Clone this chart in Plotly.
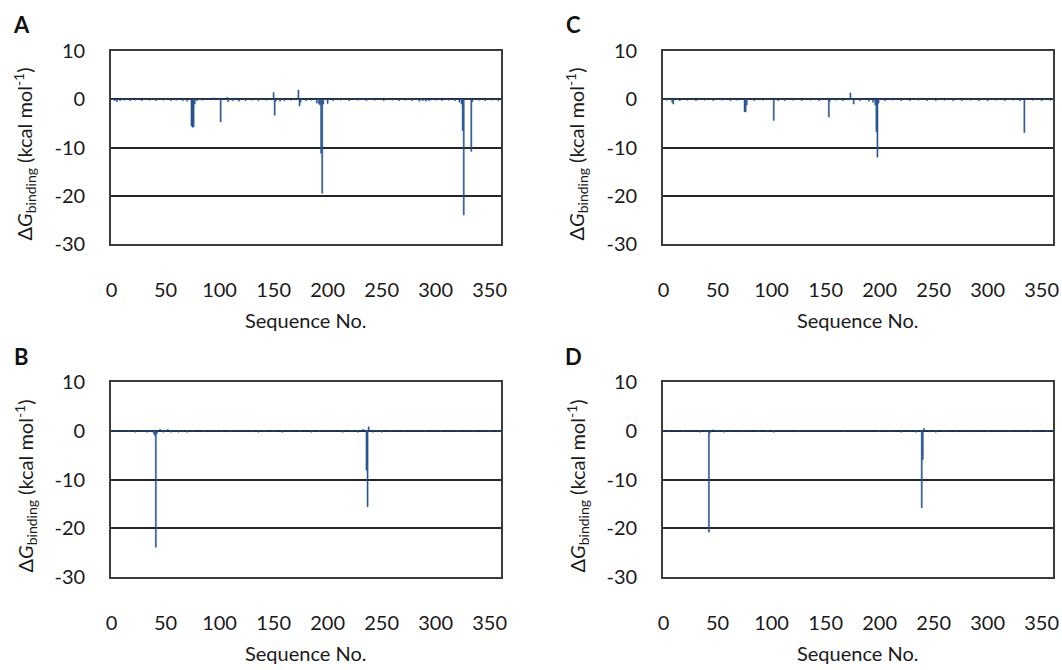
import plotly.graph_objects as go

# ---------------- data ----------------
N_RES = 361
seq_no = list(range(N_RES))

x_ticks = [0, 50, 100, 150, 200, 250, 300, 350]
y_ticks = [-30, -20, -10, 0, 10]
y_tick_text = ["-30", "-20", "-10", "0", "10"]

# main peaks, residue: dG (kcal/mol)
peaks_A = {74: -5.5, 75: -5.8, 76: -5.7, 77: -1.0, 101: -4.7, 107: 0.4, 108: -0.5,
           150: 1.4, 151: -3.3, 152: -0.4, 173: 1.9, 174: -1.4, 175: -0.6,
           190: -0.8, 192: -1.0, 193: -1.2, 194: -11.2, 195: -19.5, 196: -1.0,
           200: -0.9, 322: -0.6, 324: -1.0, 325: -6.5, 326: -24.0, 333: -10.8, 334: -0.5}
noise_A = {3: -0.3, 5: -0.5, 8: -0.3, 12: -0.2, 17: -0.3, 22: -0.2, 28: -0.3, 35: -0.2,
           41: -0.3, 48: -0.2, 55: -0.3, 60: -0.2, 66: -0.3, 70: -0.4, 79: -0.3, 84: -0.2,
           90: 0.2, 95: 0.3, 112: -0.3, 118: -0.4, 124: -0.3, 130: -0.2, 136: -0.3,
           143: -0.2, 156: -0.4, 160: -0.3, 166: -0.2, 180: -0.3, 185: -0.2, 205: -0.3,
           212: -0.2, 220: -0.3, 228: -0.2, 236: -0.3, 244: -0.2, 252: -0.3, 260: -0.2,
           266: -0.3, 272: -0.2, 278: -0.3, 285: -0.4, 288: -0.3, 291: -0.4, 294: -0.3,
           300: -0.2, 306: -0.3, 312: -0.2, 318: -0.3, 340: -0.2, 346: -0.3, 352: -0.2,
           358: -0.3}

peaks_B = {39: -0.5, 40: -1.0, 41: -23.9, 42: -0.6, 45: 0.3, 48: -0.3, 52: 0.3,
           236: -8.1, 237: -15.6, 238: 0.8, 233: 0.3}
noise_B = {4: -0.2, 10: -0.2, 16: -0.2, 22: -0.3, 28: -0.2, 33: -0.3, 36: -0.2,
           55: -0.3, 58: -0.2, 62: -0.3, 66: -0.2, 70: -0.3, 75: -0.2, 86: -0.2,
           102: -0.2, 110: -0.2, 130: -0.2, 136: -0.3, 142: -0.2, 150: -0.2, 158: -0.3,
           165: -0.2, 175: -0.2, 185: -0.3, 192: -0.2, 205: -0.2, 214: -0.3, 222: -0.2,
           228: -0.3, 242: -0.3, 246: -0.2, 250: -0.3, 258: -0.2, 270: -0.2, 290: -0.2,
           305: -0.2, 320: -0.2, 335: -0.2, 350: -0.2, 358: -0.2}

peaks_C = {8: -0.6, 9: -1.0, 75: -2.6, 76: -2.6, 77: -1.2, 102: -4.4, 106: -0.3,
           153: -3.7, 154: -0.4, 173: 1.3, 176: -1.0, 190: -0.4, 194: -0.6,
           196: -1.2, 197: -6.7, 198: -12.0, 199: -0.8, 334: -6.9}
noise_C = {3: -0.2, 15: -0.3, 22: -0.2, 30: -0.3, 38: -0.2, 46: -0.3, 54: -0.2,
           62: -0.3, 68: -0.2, 84: -0.3, 92: -0.2, 112: -0.3, 120: -0.2, 128: -0.3,
           136: -0.2, 144: -0.3, 160: -0.2, 166: -0.3, 182: -0.3, 205: -0.3, 212: -0.2,
           220: -0.3, 228: -0.3, 236: -0.2, 244: -0.3, 252: -0.3, 260: -0.2, 268: -0.3,
           276: -0.3, 284: -0.2, 292: -0.3, 300: -0.3, 308: -0.2, 316: -0.3, 324: -0.2,
           330: -0.3, 342: -0.2, 350: -0.3, 358: -0.2}

peaks_D = {42: -20.8, 43: -0.4, 46: 0.2, 239: -15.8, 240: -5.9, 241: 0.5}
noise_D = {5: -0.2, 18: -0.2, 34: -0.3, 39: -0.2, 50: -0.2, 56: -0.3, 62: -0.2,
           72: -0.2, 88: -0.2, 96: -0.2, 102: -0.3, 125: -0.2, 168: -0.2, 200: -0.2,
           210: -0.2, 220: -0.3, 228: -0.2, 234: -0.3, 246: -0.2, 252: -0.3, 260: -0.2,
           270: -0.2, 285: -0.2, 300: -0.2, 320: -0.2, 340: -0.2, 355: -0.2}


def build(peaks, noise):
    vals = []
    for i in seq_no:
        if i in peaks:
            vals.append(peaks[i])
        else:
            vals.append(noise.get(i, 0.0))
    return vals


dG_A = build(peaks_A, noise_A)
dG_B = build(peaks_B, noise_B)
dG_C = build(peaks_C, noise_C)
dG_D = build(peaks_D, noise_D)

# ---------------- figure ----------------
W, H = 1062, 670
BAR = "#27538F"
FONT = "Lato"
TXT = "#1a1a1a"
FS = 20

# plot areas in screen pixels: (left, right, top, bottom)
areas = {
    "A": (111, 501, 51, 244),
    "C": (663, 1053, 51, 244),
    "B": (111, 501, 382, 577),
    "D": (663, 1053, 382, 577),
}
series = {"A": dG_A, "B": dG_B, "C": dG_C, "D": dG_D}
order = ["A", "C", "B", "D"]


def px(x):
    return x / W


def py(y):
    return 1 - y / H


fig = go.Figure()
layout = dict(width=W, height=H, margin=dict(l=0, r=0, t=0, b=0, autoexpand=False),
              paper_bgcolor="white", plot_bgcolor="white", showlegend=False,
              font=dict(family=FONT, size=FS, color=TXT))
annotations = []

for k, name in enumerate(order):
    l, r, t, b = areas[name]
    sfx = "" if k == 0 else str(k + 1)
    fig.add_trace(go.Bar(x=seq_no, y=series[name], width=1.0,
                         marker=dict(color=BAR, line=dict(width=0.5, color=BAR)),
                         xaxis="x" + sfx, yaxis="y" + sfx))
    layout["xaxis" + sfx] = dict(
        domain=[px(l), px(r)], anchor="y" + sfx, range=[-0.5, 360.5], automargin=False,
        tickvals=x_ticks, ticks="", showgrid=False, zeroline=False,
        showline=True, mirror=True, linecolor="#3c3c3c", linewidth=1.8,
        ticklabelstandoff=27, tickfont=dict(size=FS, family=FONT, color=TXT))
    layout["yaxis" + sfx] = dict(
        domain=[py(b), py(t)], anchor="x" + sfx, range=[-30, 10], automargin=False,
        tickvals=y_ticks, ticktext=y_tick_text, ticks="", showgrid=True,
        gridcolor="#262626", gridwidth=1.8,
        zeroline=False, showline=True, mirror=True, linecolor="#3c3c3c", linewidth=1.8,
        ticklabelstandoff=20, tickfont=dict(size=FS, family=FONT, color=TXT))
    # panel letter
    annotations.append(dict(text="<b>%s</b>" % name, x=px(l - 90), y=py(t - 26),
                            xref="paper", yref="paper", showarrow=False,
                            xanchor="center", yanchor="middle",
                            font=dict(size=22, family=FONT, color="#111111")))
    # y title
    annotations.append(dict(text="Δ<i>G</i><sub>binding</sub> (kcal mol<sup>-1</sup>)",
                            x=px(l - 86), y=py((t + b) / 2 + 7),
                            xref="paper", yref="paper", showarrow=False, textangle=-90,
                            xanchor="center", yanchor="middle",
                            font=dict(size=FS, family=FONT, color=TXT)))
    # x title
    annotations.append(dict(text="Sequence No.", x=px((l + r) / 2),
                            y=py(b + 76), xref="paper", yref="paper",
                            showarrow=False, xanchor="center", yanchor="middle",
                            font=dict(size=FS, family=FONT, color=TXT)))

layout["annotations"] = annotations
fig.update_layout(**layout)
fig.write_html("out.html", config={"displayModeBar": False},
               post_script="document.body.style.margin='0px';"
                           "document.body.style.overflow='hidden';")
